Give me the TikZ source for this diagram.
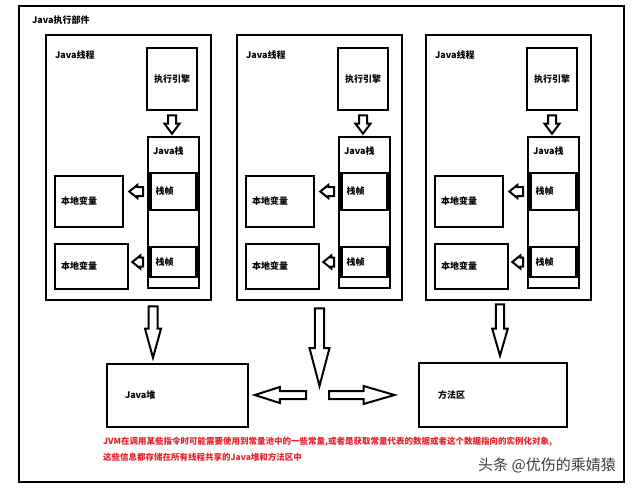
\documentclass[tikz,border=0pt]{standalone}
\usepackage{fontspec}
\setmainfont{Noto Sans CJK SC}
\usetikzlibrary{calc, positioning}
\definecolor{jvmLine}{HTML}{000000}
\definecolor{jvmNote}{HTML}{E8202A}
\definecolor{jvmMark}{HTML}{3C3C3C}
\tikzset{
  jvmfig/.style={
    x=1pt, y=-1pt,
    every node/.append style={font=\bfseries\fontsize{9}{11}\selectfont},
  },
  box/.style={draw=jvmLine, line width=2.6pt, inner sep=0pt},
  outerbox/.style={box, minimum width=605pt, minimum height=476pt},
  threadbox/.style={box, minimum width=165pt, minimum height=265pt},
  enginebox/.style={box, minimum width=50pt, minimum height=62pt},
  stackbox/.style={box, minimum width=51pt, minimum height=151pt},
  framebox/.style={box, align=left, text width=36pt, inner xsep=5pt, minimum width=46pt, minimum height=37pt},
  framelow/.style={framebox, minimum height=30pt},
  localbox/.style={box, align=left, text width=56pt, inner xsep=6pt, minimum width=68pt, minimum height=51pt},
  locallow/.style={box, align=left, text width=61pt, inner xsep=6pt, minimum width=73pt, minimum height=45pt},
  heapbox/.style={box, align=left, text width=105pt, inner xsep=18pt, minimum width=141pt, minimum height=63pt},
  methodbox/.style={box, align=left, text width=110pt, inner xsep=19pt, minimum width=148pt, minimum height=64pt},
  tag/.style={inner sep=0pt, anchor=west},
  note/.style={inner sep=0pt, anchor=north west, align=left, text=jvmNote,
    font=\bfseries\fontsize{8.5}{16}\selectfont},
  wmark/.style={inner sep=0pt, anchor=west, text=jvmMark, font=\mdseries\fontsize{15}{15}\selectfont},
  shaftw/.store in=\arShaftW, headw/.store in=\arHeadW, headl/.store in=\arHeadL,
  gapa/.store in=\arGapA, gapb/.store in=\arGapB,
  shaftw=4pt, headw=8pt, headl=10pt, gapa=0pt, gapb=0pt,
  % hohler Blockpfeil als Umriss zwischen Start und Ziel
  hollow/.style={draw=jvmLine, line width=2pt, fill=white, line join=miter,
    to path={let \p1=($(\tikztostart)!\arGapA!(\tikztotarget)$),
                 \p2=($(\tikztotarget)!\arGapB!(\tikztostart)$) in
      ($(\p1)!\arShaftW!90:(\p2)$)
      -- ($(\p2)!\arHeadL!(\p1)!\arShaftW!-90:(\p1)$)
      -- ($(\p2)!\arHeadL!(\p1)!\arHeadW!-90:(\p1)$)
      -- (\p2)
      -- ($(\p2)!\arHeadL!(\p1)!\arHeadW!90:(\p1)$)
      -- ($(\p2)!\arHeadL!(\p1)!\arShaftW!90:(\p1)$)
      -- ($(\p1)!\arShaftW!-90:(\p2)$) -- cycle}},
  downtick/.style={hollow, shaftw=4pt, headw=7.5pt, headl=10pt, gapa=4pt, gapb=2pt},
  sidetick/.style={hollow, shaftw=4.5pt, headw=6.5pt, headl=8pt, gapa=6pt, gapb=5pt},
}

\begin{document}
\begin{tikzpicture}[jvmfig]
  \useasboundingbox (0,0) rectangle (640,488);
  \fill[white] (0,0) rectangle (640,488);
  \node[outerbox] (Outer) at (321.5,244) {};
  \node[tag] (TitleLabel) at (32,20) {Java执行部件};
  \node[threadbox] (Thread1) at (128.5,167.5) {};
  \node[threadbox] (Thread2) at (319.5,167.5) {};
  \node[threadbox] (Thread3) at (508.5,167.5) {};
  \node[tag] (ThreadLabel1) at (55,55) {Java线程};
  \node[tag] (ThreadLabel2) at (246,55) {Java线程};
  \node[tag] (ThreadLabel3) at (435,55) {Java线程};
  \node[enginebox] (Engine1) at (172,79) {执行引擎};
  \node[enginebox] (Engine2) at (363,79) {执行引擎};
  \node[enginebox] (Engine3) at (552,79) {执行引擎};
  \node[stackbox] (Stack1) at (173.5,212.5) {};
  \node[stackbox] (Stack2) at (364.5,212.5) {};
  \node[stackbox] (Stack3) at (553.5,212.5) {};
  \node[tag] (StackLabel1) at (153,151) {Java栈};
  \node[tag] (StackLabel2) at (344,151) {Java栈};
  \node[tag] (StackLabel3) at (533,151) {Java栈};
  \node[framebox] (FrameA1) at (173.5,191.5) {栈帧};
  \node[framebox] (FrameA2) at (364.5,191.5) {栈帧};
  \node[framebox] (FrameA3) at (553.5,191.5) {栈帧};
  \node[framelow] (FrameB1) at (173.5,262) {栈帧};
  \node[framelow] (FrameB2) at (364.5,262) {栈帧};
  \node[framelow] (FrameB3) at (553.5,262) {栈帧};
  \node[localbox] (LocalA1) at (89,201.5) {本地变量};
  \node[localbox] (LocalA2) at (280,201.5) {本地变量};
  \node[localbox] (LocalA3) at (469,201.5) {本地变量};
  \node[locallow] (LocalB1) at (91.5,266.5) {本地变量};
  \node[locallow] (LocalB2) at (282.5,266.5) {本地变量};
  \node[locallow] (LocalB3) at (471.5,266.5) {本地变量};
  \node[heapbox] (Heap) at (177.5,395.5) {Java堆};
  \node[methodbox] (Method) at (493,395) {方法区};
  \coordinate (Junction) at (319.5,386);
  \coordinate (SplitL) at (306,395);
  \coordinate (SplitR) at (329,395);
  \coordinate (MethodTip) at (394.5,395);
  \draw[downtick] (Engine1.south) to (Engine1.south |- Stack1.north);
  \draw[downtick] (Engine2.south) to (Engine2.south |- Stack2.north);
  \draw[downtick] (Engine3.south) to (Engine3.south |- Stack3.north);
  \draw[sidetick] (FrameA1.west) to (FrameA1.west -| LocalA1.east);
  \draw[sidetick] (FrameA2.west) to (FrameA2.west -| LocalA2.east);
  \draw[sidetick] (FrameA3.west) to (FrameA3.west -| LocalA3.east);
  \draw[sidetick, gapb=3pt] (FrameB1.west) to (FrameB1.west -| LocalB1.east);
  \draw[sidetick, gapb=3pt] (FrameB2.west) to (FrameB2.west -| LocalB2.east);
  \draw[sidetick, gapb=3pt] (FrameB3.west) to (FrameB3.west -| LocalB3.east);
  \draw[hollow, shaftw=4.5pt, headw=8pt, headl=29pt, gapa=5pt, gapb=5pt] ([xshift=24.5pt]Thread1.south) to ([xshift=-24.5pt]Heap.north);
  \draw[hollow, shaftw=4.7pt, headw=10pt, headl=38pt, gapa=7pt] (Thread2.south) to (Junction);
  \draw[hollow, shaftw=4.2pt, headw=7.8pt, headl=27pt, gapa=3pt, gapb=6pt] ([xshift=-8.5pt]Thread3.south) to ([xshift=7pt]Method.north);
  \draw[hollow, shaftw=4pt, headw=8pt, headl=25pt, gapb=5.5pt] (SplitL) to (SplitL -| Heap.east);
  \draw[hollow, shaftw=4pt, headw=9pt, headl=31pt] (SplitR) to (MethodTip);
  \node[note] (Note) at (103,436.5) {JVM在调用某些指令时可能需要使用到常量池中的一些常量,或者是获取常量代表的数据或者这个数据指向的实例化对象,\\这些信息都存储在所有线程共享的Java堆和方法区中};
  \node[wmark] (Watermark) at (478,465) {头条 @优伤的乘婧猿};
\end{tikzpicture}
\end{document}
